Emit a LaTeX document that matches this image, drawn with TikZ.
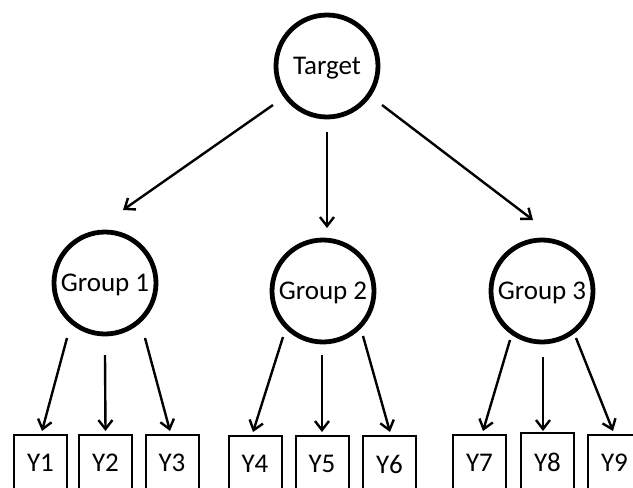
\documentclass[tikz,border=0pt]{standalone}
\usepackage{fontspec}
\setmainfont{Carlito}
\usetikzlibrary{arrows.meta}

\tikzset{
  latent/.style={circle, draw, line width=4.8pt, minimum size=102pt, inner sep=0pt,
                 text depth=0pt, font=\fontsize{27}{30}\selectfont},
  observed/.style={rectangle, draw, line width=2pt, minimum width=53pt, minimum height=56pt,
                   inner sep=0pt, font=\fontsize{27}{30}\selectfont},
  arr/.style={line width=2.4pt, -{Straight Barb[length=9pt, width=14pt, line width=2.4pt]}},
}

\begin{document}
\begin{tikzpicture}[x=1pt, y=-1pt]
  \useasboundingbox (0,0) rectangle (633,488);
  \clip (0,0) rectangle (633,488);

  % latent variables
  \node[latent] (t)  at (327,66)  {Target};
  \node[latent] (g1) at (105,283) {Group 1};
  \node[latent] (g2) at (323,291) {Group 2};
  \node[latent] (g3) at (542,291) {Group 3};

  % indicators
  \node[observed] (y1) at (40.5,463)  {Y1};
  \node[observed] (y2) at (105.5,463) {Y2};
  \node[observed] (y3) at (172,463)   {Y3};
  \node[observed] (y4) at (255,464)   {Y4};
  \node[observed] (y5) at (322,464)   {Y5};
  \node[observed] (y6) at (389.5,464) {Y6};
  \node[observed] (y7) at (479.5,463) {Y7};
  \node[observed, minimum height=58pt] (y8) at (547.5,462) {Y8};
  \node[observed] (y9) at (614.5,463) {Y9};

  % target -> groups
  \draw[arr] ([shift={(-54,39)}]t.center) -- ([shift={(18,-73)}]g1.center);
  \draw[arr] ([shift={(0,66)}]t.center)   -- ([shift={(4,-63)}]g2.center);
  \draw[arr] ([shift={(55,39)}]t.center)  -- ([shift={(-9,-71)}]g3.center);

  % group 1 -> indicators
  \draw[arr] ([shift={(-38,55)}]g1.center) -- ([shift={(1.5,-3)}]y1.north);
  \draw[arr] ([shift={(0,72)}]g1.center)   -- ([shift={(0,-3)}]y2.north);
  \draw[arr] ([shift={(40,55)}]g1.center)  -- ([shift={(-2,-3)}]y3.north);

  % group 2 -> indicators
  \draw[arr] ([shift={(-40,46)}]g2.center) -- ([shift={(-2,-3)}]y4.north);
  \draw[arr] ([shift={(-1,64)}]g2.center)  -- ([shift={(0,-3)}]y5.north);
  \draw[arr] ([shift={(40,45)}]g2.center)  -- ([shift={(0.5,-3)}]y6.north);

  % group 3 -> indicators
  \draw[arr] ([shift={(-32,49)}]g3.center) -- ([shift={(3.5,-3)}]y7.north);
  \draw[arr] ([shift={(1,66)}]g3.center)   -- ([shift={(-4.5,-1)}]y8.north);
  \draw[arr] ([shift={(34,47)}]g3.center)  -- ([shift={(-1.5,-3)}]y9.north);
\end{tikzpicture}
\end{document}
